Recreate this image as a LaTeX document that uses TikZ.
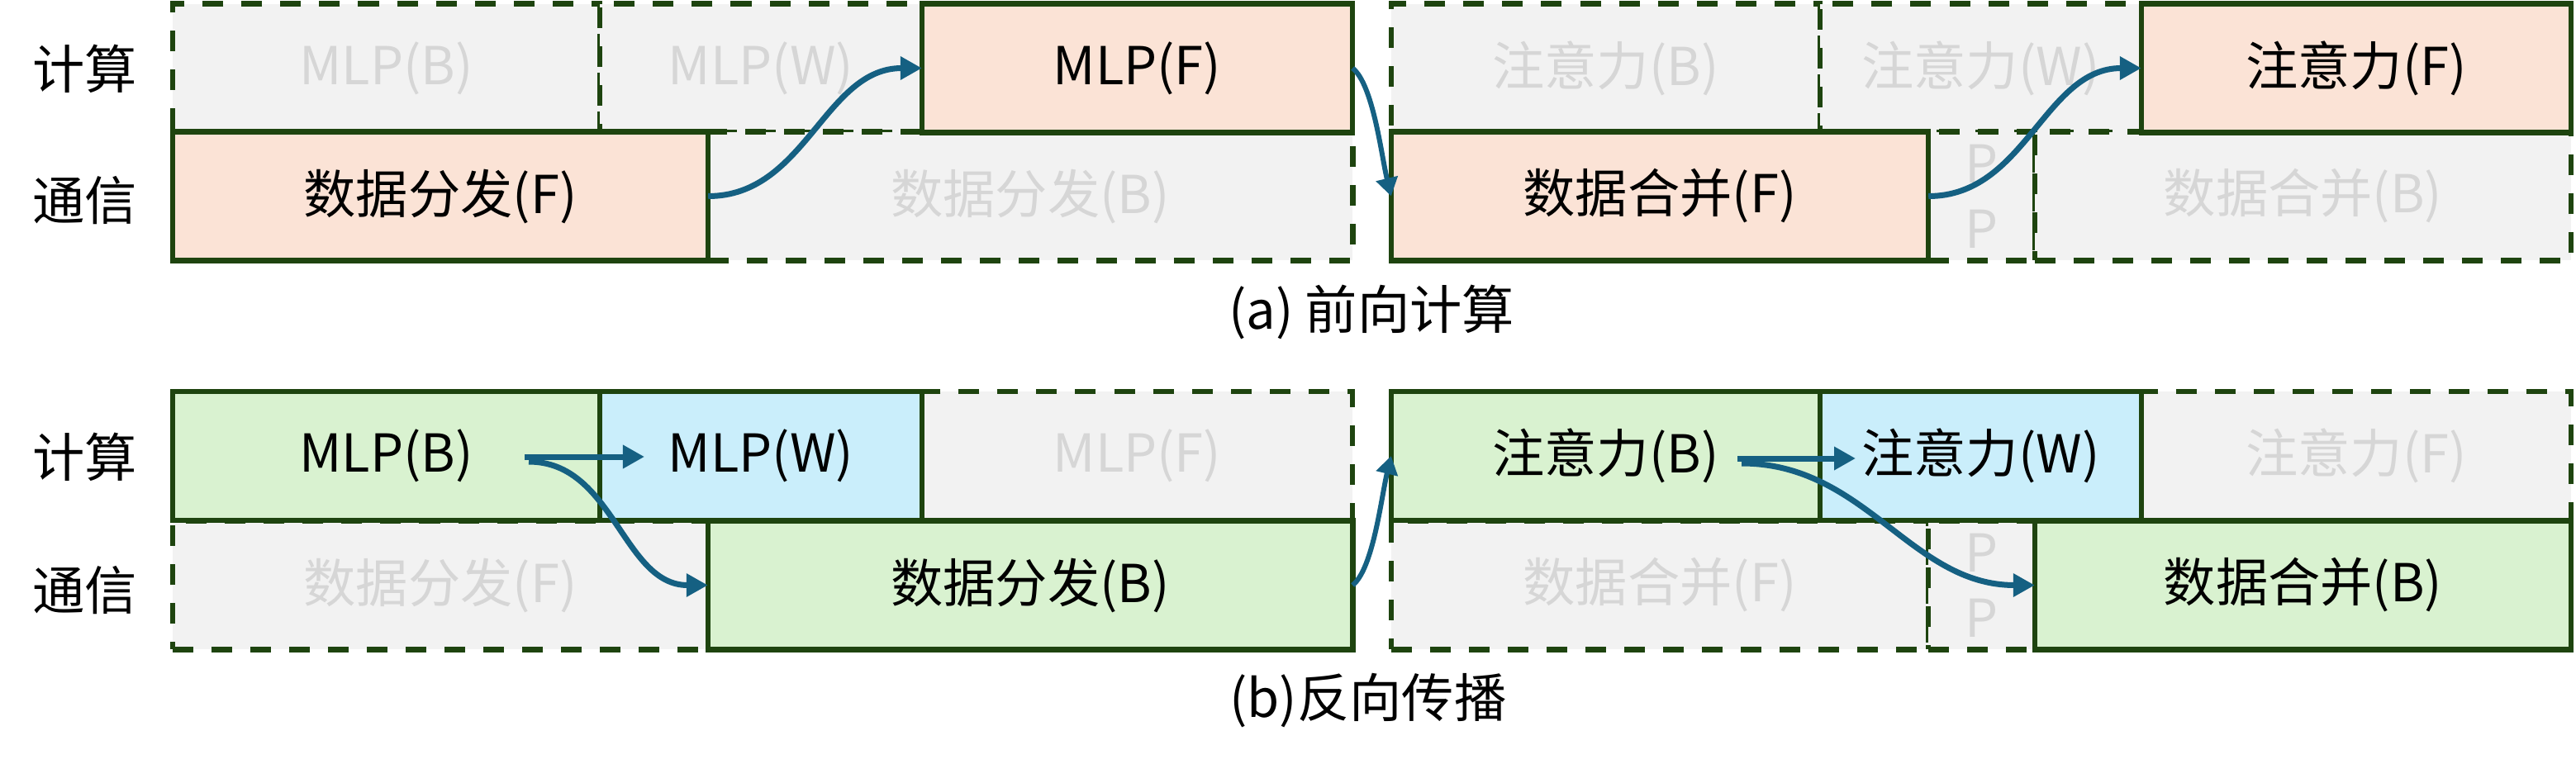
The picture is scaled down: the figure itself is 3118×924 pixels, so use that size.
\documentclass[tikz,border=0pt]{standalone}
\usepackage{fontspec}
\setmainfont{Noto Sans CJK SC}
\usetikzlibrary{arrows.meta}
\definecolor{dgreen}{RGB}{30,68,15}
\definecolor{idlefill}{RGB}{242,242,242}
\definecolor{idletext}{RGB}{214,214,214}
\definecolor{fwdfill}{RGB}{251,227,214}
\definecolor{bwdfill}{RGB}{217,242,208}
\definecolor{wgtfill}{RGB}{202,238,251}
\definecolor{arrowc}{RGB}{21,96,130}
\newcommand{\fsz}{\fontsize{18}{22.4}\selectfont}
\tikzset{
  cellbox/.style={rectangle, draw=dgreen, line width=0.065cm, minimum height=1.555cm,
    inner sep=0pt, outer sep=0pt, anchor=center, font=\fsz, text=black},
  idlebox/.style={cellbox, fill=idlefill, text=idletext, dash pattern=on 0.25cm off 0.22cm},
  fwdbox/.style={cellbox, fill=fwdfill},
  bwdbox/.style={cellbox, fill=bwdfill},
  wgtbox/.style={cellbox, fill=wgtfill},
  rowlabel/.style={font=\fsz, inner sep=0pt},
  caption/.style={font=\fsz, inner sep=0pt},
  flowarrow/.style={draw=arrowc, line width=0.07cm, -{Triangle[length=0.26cm,width=0.27cm]}},
  thinarrow/.style={draw=arrowc, line width=0.06cm, -{Triangle[length=0.22cm,width=0.26cm]}},
}
\begin{document}
\begin{tikzpicture}[x=0.01cm,y=-0.01cm]
\useasboundingbox (0,0) rectangle (3118,924);

% row labels
\node[rowlabel] (laComp) at (103,83) {计算};
\node[rowlabel] (laComm) at (103,243) {通信};
\node[rowlabel] (lbComp) at (103,553) {计算};
\node[rowlabel] (lbComm) at (103,715) {通信};

% ---------- (a) forward ----------
\node[idlebox, minimum width=5.17cm] (aMlpB) at (467.5,82.5) {MLP(B)};
\node[idlebox, minimum width=3.90cm] (aMlpW) at (921,82.5) {MLP(W)};
\node[idlebox, minimum width=7.80cm] (aDispB) at (1247,237.5) {数据分发(B)};
\node[idlebox, minimum width=5.19cm] (aAttB) at (1943.5,82.5) {注意力(B)};
\node[idlebox, minimum width=3.89cm] (aAttW) at (2397.5,82.5) {注意力(W)};
\node[idlebox, minimum width=1.29cm, align=center] (aPP) at (2398.5,237.5) {P\\P};
\node[idlebox, minimum width=6.49cm] (aCombB) at (2787.5,237.5) {数据合并(B)};
\node[fwdbox, minimum width=5.21cm] (aMlpF) at (1376.5,82.5) {MLP(F)};
\node[fwdbox, minimum width=6.48cm] (aDispF) at (533,237.5) {数据分发(F)};
\node[fwdbox, minimum width=6.50cm] (aCombF) at (2009,237.5) {数据合并(F)};
\node[fwdbox, minimum width=5.20cm] (aAttF) at (2852,82.5) {注意力(F)};

\node[caption] (capA) at (1660,378) {(a) 前向计算};

% ---------- (b) backward ----------
\node[idlebox, minimum width=5.21cm] (bMlpF) at (1376.5,552) {MLP(F)};
\node[idlebox, minimum width=6.48cm] (bDispF) at (533,708.5) {数据分发(F)};
\node[idlebox, minimum width=6.50cm] (bCombF) at (2009,708.5) {数据合并(F)};
\node[idlebox, minimum width=1.29cm, align=center] (bPP) at (2398.5,708.5) {P\\P};
\node[idlebox, minimum width=5.20cm] (bAttF) at (2852,552) {注意力(F)};
\node[bwdbox, minimum width=5.17cm] (bMlpB) at (467.5,552) {MLP(B)};
\node[wgtbox, minimum width=3.90cm] (bMlpW) at (921,552) {MLP(W)};
\node[bwdbox, minimum width=7.80cm] (bDispB) at (1247,708.5) {数据分发(B)};
\node[bwdbox, minimum width=5.19cm] (bAttB) at (1943.5,552) {注意力(B)};
\node[wgtbox, minimum width=3.89cm] (bAttW) at (2397.5,552) {注意力(W)};
\node[bwdbox, minimum width=6.49cm] (bCombB) at (2787.5,708.5) {数据合并(B)};

\node[caption] (capB) at (1656,848) {(b)反向传播};

% ---------- connectors ----------
\draw[flowarrow] (aDispF.east) to[out=0,in=180] (aMlpF.west);
\draw[thinarrow] (aMlpF.east) .. controls +(25,20) and +(-12,-50) .. (aCombF.west);
\draw[flowarrow] (aCombF.east) to[out=0,in=180] (aAttF.west);

\coordinate (bSrcA) at (635,553);
\coordinate (bSrcA2) at (640,559);
\coordinate (bTgtA) at (780,553);
\coordinate (bSrcB) at (2103,555);
\coordinate (bSrcB2) at (2108,561);
\coordinate (bTgtB) at (2246,555);
\draw[flowarrow] (bSrcA) -- (bTgtA);
\draw[flowarrow] (bSrcA2) to[out=0,in=180] (bDispB.west);
\draw[thinarrow] (bDispB.east) .. controls +(25,-20) and +(-12,50) .. (bAttB.west);
\draw[flowarrow] (bSrcB) -- (bTgtB);
\draw[flowarrow] (bSrcB2) to[out=0,in=180] (bCombB.west);
\end{tikzpicture}
\end{document}
